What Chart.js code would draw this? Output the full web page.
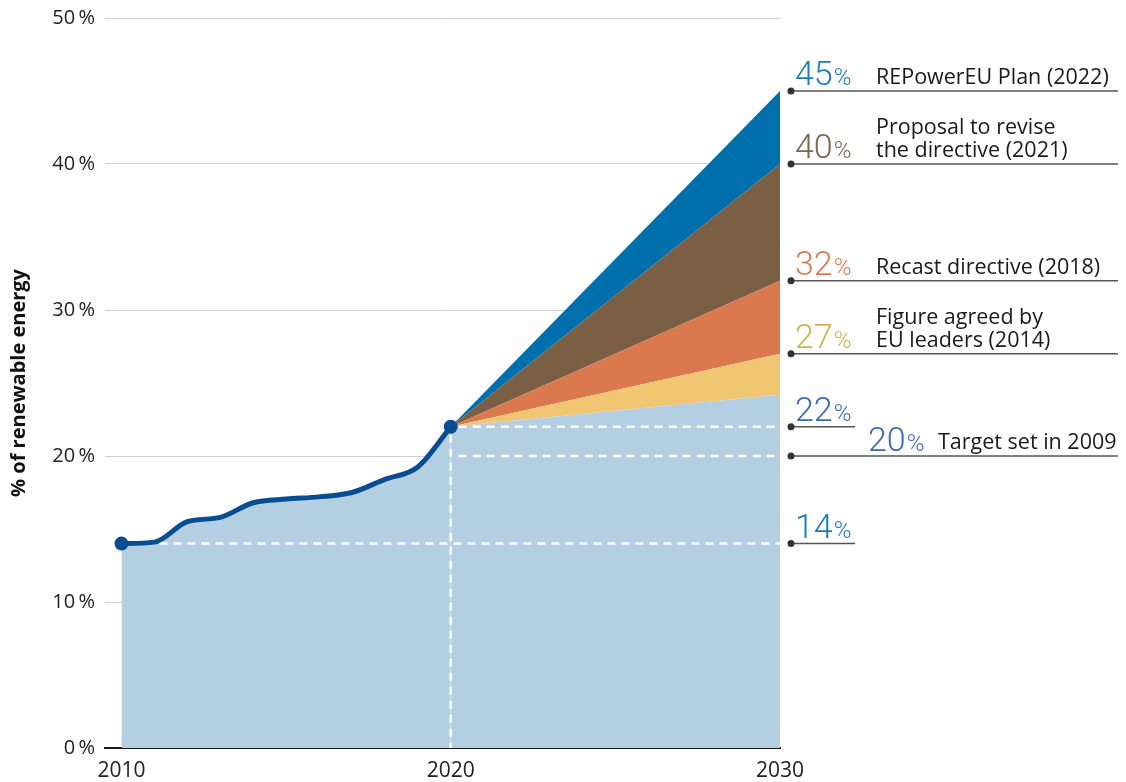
<!DOCTYPE html>
<html>
<head>
<meta charset="utf-8">
<script src="https://cdn.jsdelivr.net/npm/chart.js@4/dist/chart.umd.min.js"></script>
<style>
  html, body { margin: 0; padding: 0; background: #fff; }
  #wrap { width: 1126px; height: 782px; }
</style>
</head>
<body>
<div id="wrap"><canvas id="renewables"></canvas></div>
<script>
// share of renewable energy, EU, 2010-2020
const years = [2010, 2011, 2012, 2013, 2014, 2015, 2016, 2017, 2018, 2019, 2020];
const renewableShare = [14, 14.1, 15.5, 15.8, 16.8, 17.05, 17.2, 17.5, 18.4, 19.25, 22];

// 2030 targets, lowest first
const targetYear = 2030;
const trend2030 = 24.2;
const targetValues = [27, 32, 40, 45];
const targetColors = ['#f1c673', '#d9794d', '#7a5f45', '#0070ad'];
const targetTextColors = ['#d4b24c', '#de7b52', '#7c6650', '#1a7db8'];
const targetNotes = [
    ['Figure agreed by', 'EU leaders (2014)'],
    ['Recast directive (2018)'],
    ['Proposal to revise', 'the directive (2021)'],
    ['REPowerEU Plan (2022)']
];

// reference levels marked on the right
const level2020 = 22;
const target2020 = 20;
const level2010 = 14;
const target2020Note = 'Target set in 2009';

const yTicks = [0, 10, 20, 30, 40, 50];
const xTicks = [2010, 2020, 2030];

const navy = '#084c91';
const paleBlue = '#b5cfe2';
const textFont = '"Open Sans", "Noto Sans", sans-serif';
const numFont = 'Roboto, "Noto Sans", sans-serif';

const lastYear = years[years.length - 1];
const lastShare = renewableShare[renewableShare.length - 1];

const history = years.map((y, i) => ({ x: y, y: renewableShare[i] }));

const datasets = [{
    data: history,
    borderColor: navy,
    borderWidth: 5,
    backgroundColor: paleBlue,
    fill: 'origin',
    cubicInterpolationMode: 'monotone',
    pointRadius: history.map((p, i) => (i === 0 || i === history.length - 1) ? 7 : 0),
    pointBackgroundColor: navy,
    pointBorderWidth: 0
}, {
    data: [{ x: lastYear, y: lastShare }, { x: targetYear, y: trend2030 }],
    borderWidth: 0,
    backgroundColor: paleBlue,
    fill: 'origin',
    pointRadius: 0
}];

targetValues.forEach((v, i) => {
    datasets.push({
        data: [{ x: lastYear, y: lastShare }, { x: targetYear, y: v }],
        borderWidth: 0,
        backgroundColor: targetColors[i],
        fill: '-1',
        pointRadius: 0
    });
});

// white dashed guides, drawn just before the history line
const guides = {
    id: 'guides',
    beforeDatasetDraw(chart, args) {
        if (args.index !== 0) return;
        const { ctx, chartArea, scales: { x, y } } = chart;
        ctx.save();
        ctx.strokeStyle = '#fff';
        ctx.lineWidth = 2.5;
        ctx.setLineDash([8, 6]);
        const hline = (x0, v) => {
            ctx.beginPath();
            ctx.moveTo(x0, y.getPixelForValue(v));
            ctx.lineTo(chartArea.right, y.getPixelForValue(v));
            ctx.stroke();
        };
        hline(x.getPixelForValue(years[0]) + 10, level2010);
        hline(x.getPixelForValue(lastYear) + 8, level2020);
        hline(x.getPixelForValue(lastYear) + 8, target2020);
        ctx.beginPath();
        ctx.moveTo(x.getPixelForValue(lastYear), y.getPixelForValue(level2020) + 8);
        ctx.lineTo(x.getPixelForValue(lastYear), chartArea.bottom);
        ctx.stroke();
        ctx.restore();
    }
};

// callouts to the right of the plot
const callouts = {
    id: 'callouts',
    afterDraw(chart) {
        const { ctx, chartArea, scales: { y } } = chart;
        const dotX = chartArea.right + 11;
        const farX = 1118;
        const shortX = 855;

        const leader = (v, endX) => {
            const py = y.getPixelForValue(v);
            ctx.strokeStyle = '#555';
            ctx.lineWidth = 1.5;
            ctx.setLineDash([]);
            ctx.beginPath();
            ctx.moveTo(dotX, py);
            ctx.lineTo(endX, py);
            ctx.stroke();
            ctx.fillStyle = '#333';
            ctx.beginPath();
            ctx.arc(dotX, py, 3.5, 0, Math.PI * 2);
            ctx.fill();
            return py;
        };
        const bigPct = (v, px, py, color) => {
            ctx.fillStyle = color;
            ctx.textBaseline = 'alphabetic';
            ctx.textAlign = 'left';
            ctx.font = '300 34px ' + numFont;
            const num = String(v);
            ctx.fillText(num, px, py);
            const w = ctx.measureText(num).width;
            ctx.font = '300 24px ' + numFont;
            ctx.fillText('%', px + w + 1, py);
        };
        const note = (lines, px, py) => {
            ctx.fillStyle = '#1a1a1a';
            ctx.font = '400 21.5px ' + textFont;
            ctx.textAlign = 'left';
            ctx.textBaseline = 'alphabetic';
            lines.forEach((t, i) => {
                ctx.fillText(t, px, py - (lines.length - 1 - i) * 23);
            });
        };

        ctx.save();
        targetValues.forEach((v, i) => {
            const py = leader(v, farX);
            bigPct(v, dotX + 4, py - 6, targetTextColors[i]);
            note(targetNotes[i], 876, py - 7);
        });

        let py = leader(level2020, shortX);
        bigPct(level2020, dotX + 4, py - 6, '#3b6cb3');

        py = leader(target2020, farX);
        bigPct(target2020, 868, py - 5, '#3b6cb3');
        note([target2020Note], 938, py - 7);

        py = leader(level2010, shortX);
        bigPct(level2010, dotX + 4, py - 6, '#1a7db8');
        ctx.restore();
    }
};

new Chart(document.getElementById('renewables'), {
    type: 'line',
    data: { datasets },
    options: {
        responsive: true,
        maintainAspectRatio: false,
        animation: false,
        layout: { padding: { top: 18, right: 346, bottom: 0, left: 0 } },
        plugins: {
            legend: { display: false },
            tooltip: { enabled: false }
        },
        scales: {
            x: {
                type: 'linear',
                min: 2009.5,
                max: 2030,
                afterBuildTicks: (axis) => { axis.ticks = xTicks.map(v => ({ value: v })); },
                afterFit: (axis) => { axis.height = 34; },
                grid: { display: false, drawTicks: false },
                border: { display: true, color: '#1a1a1a', width: 2 },
                ticks: {
                    padding: 13,
                    color: '#222',
                    font: { family: textFont, size: 21, lineHeight: 1 },
                    callback: (v) => String(v)
                }
            },
            y: {
                min: 0,
                max: 50,
                afterBuildTicks: (axis) => { axis.ticks = yTicks.map(v => ({ value: v })); },
                afterFit: (axis) => {
                    axis.width = 105;
                    axis.paddingTop = 0;
                    axis.paddingBottom = 0;
                },
                grid: { color: '#d0d0d0', lineWidth: 1, drawTicks: false },
                border: { display: false },
                ticks: {
                    padding: 10,
                    color: '#222',
                    font: { family: textFont, size: 20 },
                    callback: (v) => v + '\u2009%'
                },
                title: {
                    display: true,
                    text: '% of renewable energy',
                    color: '#111',
                    padding: { top: 7, bottom: 0 },
                    font: { family: textFont, size: 20, weight: 'bold' }
                }
            }
        }
    },
    plugins: [guides, callouts]
});
</script>
</body>
</html>
